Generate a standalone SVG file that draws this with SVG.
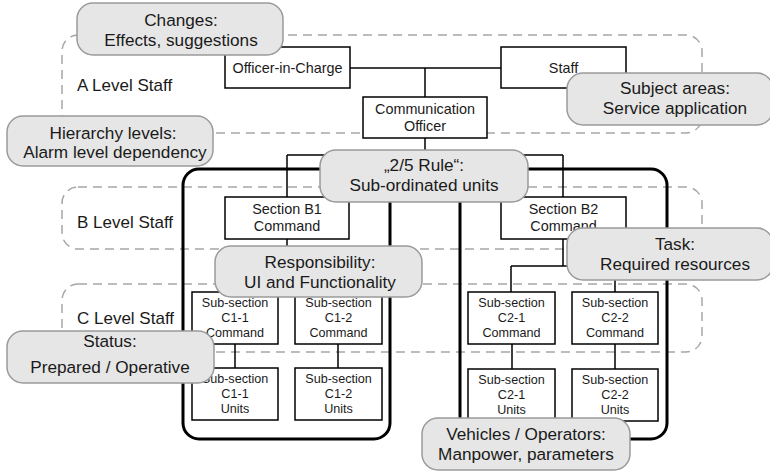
<svg xmlns="http://www.w3.org/2000/svg" width="770" height="472" viewBox="0 0 770 472">
  <style>
    .level { fill: none; stroke: #a6a6a6; stroke-width: 1.5; stroke-dasharray: 9 6; }
    .group { fill: none; stroke: #000; stroke-width: 3; }
    .box { fill: #fff; stroke: #000; stroke-width: 1.5; }
    .wire { fill: none; stroke: #000; stroke-width: 1.5; }
    .note rect { fill: #e6e6e6; stroke: #9a9a9a; stroke-width: 1.5; }
    text { font-family: "Liberation Sans", Arial, sans-serif; fill: #1a1a1a; text-anchor: middle; }
    .nt { font-size: 17.2px; }
    .bt { font-size: 14.4px; }
    .st { font-size: 12.6px; }
    .lv { font-size: 17px; text-anchor: start; }
  </style>

  <!-- staff levels -->
  <g id="level-a">
    <rect class="level" x="62" y="35" width="640" height="98" rx="16"/>
    <text class="lv" x="77" y="91">A Level Staff</text>
  </g>
  <g id="level-b">
    <rect class="level" x="62" y="187" width="640" height="62" rx="16"/>
    <text class="lv" x="77" y="228">B Level Staff</text>
  </g>
  <g id="level-c">
    <rect class="level" x="62" y="284" width="640" height="68" rx="16"/>
    <text class="lv" x="77" y="324">C Level Staff</text>
  </g>

  <!-- section groupings -->
  <g id="group-b1">
    <rect class="group" x="183" y="169" width="207" height="270" rx="16"/>
  </g>
  <g id="group-b2">
    <rect class="group" x="460" y="169" width="207" height="270" rx="16"/>
  </g>

  <!-- connectors -->
  <g id="connectors">
    <path class="wire" d="M350 68 H501"/>
    <path class="wire" d="M425 68 V97"/>
    <path class="wire" d="M425 138 V155 M287 155 H563 M287 155 V197 M563 155 V197"/>
    <path class="wire" d="M287 239 V268 M235 268 H338 M235 268 V292 M338 268 V292"/>
    <path class="wire" d="M563 239 V266 M511 266 H615 M511 266 V292 M615 266 V292"/>
    <path class="wire" d="M235 344 V368 M338 344 V368"/>
    <path class="wire" d="M512 344 V369 M615 344 V369"/>
  </g>

  <!-- organisation nodes -->
  <g id="officer-in-charge">
    <rect class="box" x="225" y="47" width="125" height="41"/>
    <text class="bt" x="287.5" y="73">Officer-in-Charge</text>
  </g>
  <g id="staff">
    <rect class="box" x="501" y="47" width="125" height="41"/>
    <text class="bt" x="563.5" y="73">Staff</text>
  </g>
  <g id="communication-officer">
    <rect class="box" x="363" y="97" width="124" height="41"/>
    <text class="bt" x="425" y="114">Communication</text>
    <text class="bt" x="425" y="131">Officer</text>
  </g>
  <g id="section-b1">
    <rect class="box" x="225" y="197" width="124" height="42"/>
    <text class="bt" x="287" y="214">Section B1</text>
    <text class="bt" x="287" y="231">Command</text>
  </g>
  <g id="section-b2">
    <rect class="box" x="501" y="197" width="125" height="42"/>
    <text class="bt" x="563.5" y="214">Section B2</text>
    <text class="bt" x="563.5" y="231">Command</text>
  </g>
  <g id="c1-1-command">
    <rect class="box" x="192" y="292" width="86" height="52"/>
    <text class="st" x="235" y="307">Sub-section</text>
    <text class="st" x="235" y="322">C1-1</text>
    <text class="st" x="235" y="337">Command</text>
  </g>
  <g id="c1-2-command">
    <rect class="box" x="295" y="292" width="87" height="52"/>
    <text class="st" x="338.5" y="307">Sub-section</text>
    <text class="st" x="338.5" y="322">C1-2</text>
    <text class="st" x="338.5" y="337">Command</text>
  </g>
  <g id="c1-1-units">
    <rect class="box" x="192" y="368" width="86" height="52"/>
    <text class="st" x="235" y="383">Sub-section</text>
    <text class="st" x="235" y="398">C1-1</text>
    <text class="st" x="235" y="413">Units</text>
  </g>
  <g id="c1-2-units">
    <rect class="box" x="295" y="368" width="87" height="52"/>
    <text class="st" x="338.5" y="383">Sub-section</text>
    <text class="st" x="338.5" y="398">C1-2</text>
    <text class="st" x="338.5" y="413">Units</text>
  </g>
  <g id="c2-1-command">
    <rect class="box" x="468" y="292" width="87" height="52"/>
    <text class="st" x="511.5" y="307">Sub-section</text>
    <text class="st" x="511.5" y="322">C2-1</text>
    <text class="st" x="511.5" y="337">Command</text>
  </g>
  <g id="c2-2-command">
    <rect class="box" x="572" y="292" width="86" height="52"/>
    <text class="st" x="615" y="307">Sub-section</text>
    <text class="st" x="615" y="322">C2-2</text>
    <text class="st" x="615" y="337">Command</text>
  </g>
  <g id="c2-1-units">
    <rect class="box" x="468" y="369" width="87" height="52"/>
    <text class="st" x="511.5" y="384">Sub-section</text>
    <text class="st" x="511.5" y="399">C2-1</text>
    <text class="st" x="511.5" y="414">Units</text>
  </g>
  <g id="c2-2-units">
    <rect class="box" x="572" y="369" width="86" height="52"/>
    <text class="st" x="615" y="384">Sub-section</text>
    <text class="st" x="615" y="399">C2-2</text>
    <text class="st" x="615" y="414">Units</text>
  </g>

  <!-- annotation callouts -->
  <g id="note-changes" class="note">
    <rect x="77" y="3" width="206" height="52" rx="16"/>
    <text class="nt" x="181" y="26">Changes:</text>
    <text class="nt" x="181" y="46">Effects, suggestions</text>
  </g>
  <g id="note-subject-areas" class="note">
    <rect x="567" y="73" width="206" height="52" rx="16"/>
    <text class="nt" x="675" y="94">Subject areas:</text>
    <text class="nt" x="675" y="114">Service application</text>
  </g>
  <g id="note-hierarchy" class="note">
    <rect x="7" y="116" width="206" height="50" rx="16"/>
    <text class="nt" x="113" y="139">Hierarchy levels:</text>
    <text class="nt" x="115" y="158">Alarm level dependency</text>
  </g>
  <g id="note-rule" class="note">
    <rect x="320" y="150" width="208" height="52" rx="16"/>
    <text class="nt" x="424" y="171">„2/5 Rule“:</text>
    <text class="nt" x="424" y="191">Sub-ordinated units</text>
  </g>
  <g id="note-responsibility" class="note">
    <rect x="215" y="246" width="207" height="51" rx="16"/>
    <text class="nt" x="320" y="267.5">Responsibility:</text>
    <text class="nt" x="320" y="287.5">UI and Functionality</text>
  </g>
  <g id="note-task" class="note">
    <rect x="567" y="228" width="206" height="52" rx="16"/>
    <text class="nt" x="675" y="249.5">Task:</text>
    <text class="nt" x="675" y="269.5">Required resources</text>
  </g>
  <g id="note-status" class="note">
    <rect x="7" y="331" width="207" height="52" rx="16"/>
    <text class="nt" x="110" y="347">Status:</text>
    <text class="nt" x="110" y="373">Prepared / Operative</text>
  </g>
  <g id="note-vehicles" class="note">
    <rect x="422" y="418" width="208" height="52" rx="16"/>
    <text class="nt" x="526" y="440">Vehicles / Operators:</text>
    <text class="nt" x="526" y="459.5">Manpower, parameters</text>
  </g>
</svg>
